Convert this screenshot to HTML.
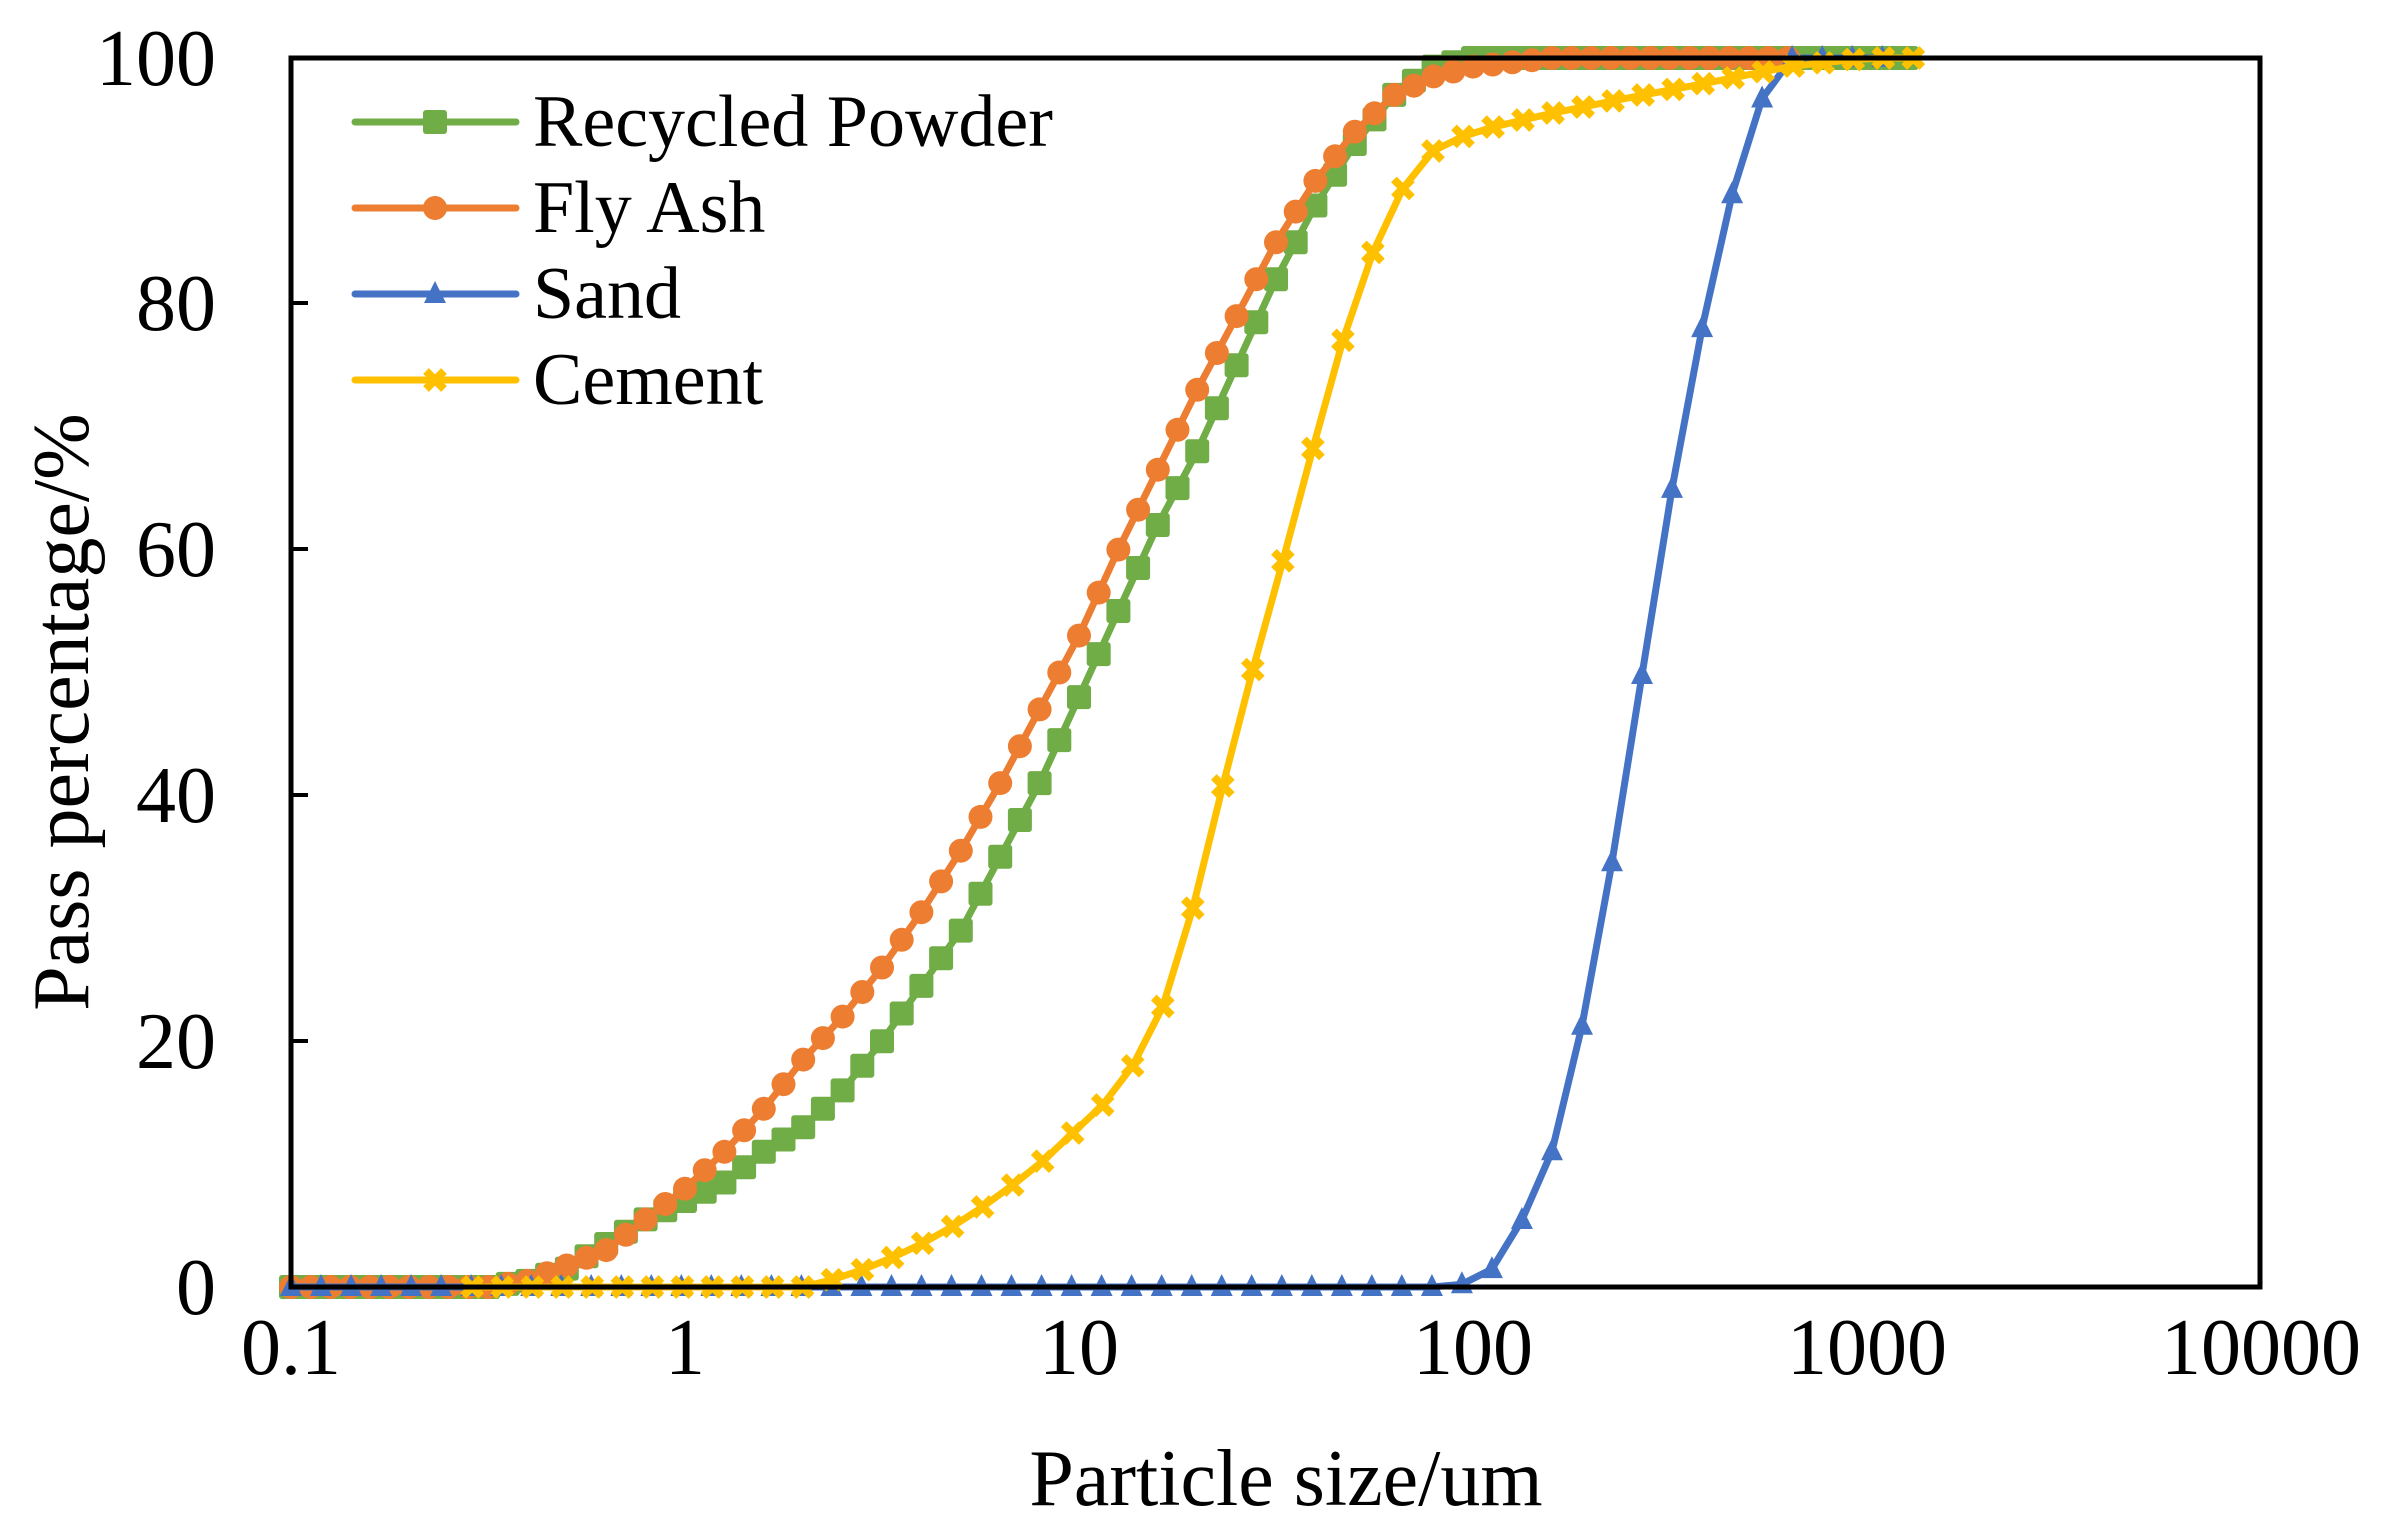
<!DOCTYPE html>
<html><head><meta charset="utf-8"><style>
html,body{margin:0;padding:0;background:#fff;}
svg{display:block;}
text{font-family:"Liberation Serif",serif;fill:#000;}
</style></head><body>
<svg id="s" width="2389" height="1524" viewBox="0 0 2389 1524" xmlns="http://www.w3.org/2000/svg">
<rect width="2389" height="1524" fill="#fff"/>
<g id="series"></g>
<rect x="291" y="58" width="1969" height="1229" fill="none" stroke="#000" stroke-width="5"/>
<g stroke="#000" stroke-width="4">
<line x1="291" y1="303" x2="308" y2="303"/><line x1="291" y1="549" x2="308" y2="549"/>
<line x1="291" y1="795" x2="308" y2="795"/><line x1="291" y1="1041" x2="308" y2="1041"/>
</g>
<g font-size="80" text-anchor="end">
<text x="216" y="85">100</text><text x="216" y="330">80</text><text x="216" y="576">60</text>
<text x="216" y="822">40</text><text x="216" y="1068">20</text><text x="216" y="1314">0</text>
</g>
<g font-size="80" text-anchor="middle">
<text x="291" y="1374">0.1</text><text x="685" y="1374">1</text><text x="1079" y="1374">10</text>
<text x="1473" y="1374">100</text><text x="1867" y="1374">1000</text><text x="2261" y="1374">10000</text>
</g>
<text x="1286" y="1505" font-size="80" text-anchor="middle">Particle size/um</text>
<text transform="translate(88,712) rotate(-90)" font-size="80" text-anchor="middle">Pass percentage/%</text>
<g font-size="74">
<text x="533" y="146">Recycled Powder</text>
<text x="533" y="232">Fly Ash</text>
<text x="533" y="318">Sand</text>
<text x="533" y="404">Cement</text>
</g>
<g id="leg"></g>
</svg>
<script>
const X0=291,DEC=394,Y0=1287,YS=12.29;
const px=l=>X0+(l+1)*DEC, py=v=>Y0-v*YS;
function interp(k,l){if(l<=k[0][0])return k[0][1];for(let i=1;i<k.length;i++){if(l<=k[i][0]){const a=k[i-1],b=k[i];return a[1]+(b[1]-a[1])*(l-a[0])/(b[0]-a[0]);}}return k[k.length-1][1];}
const S=[
{c:"#70AD47",m:"sq",st:0.05,a:-1,b:3.11,k:[[-1,0],[-0.5,0],[-0.4,0.5],[-0.3,1.5],[-0.2,3.5],[-0.1,5.5],[0,7],[0.1,8.5],[0.2,11],[0.3,13],[0.4,16],[0.5,20],[0.6,24.5],[0.7,29],[0.8,35],[0.9,41],[1.0,48],[1.1,55],[1.2,62],[1.3,68],[1.4,75],[1.5,82],[1.6,88],[1.7,93],[1.8,97],[1.9,99.3],[2.0,100],[3.2,100]]},
{c:"#ED7D31",m:"ci",st:0.05,a:-1,b:2.8,k:[[-1,0],[-0.5,0],[-0.4,0.5],[-0.2,3],[0,8],[0.1,11],[0.2,14.5],[0.3,18.5],[0.4,22],[0.5,26],[0.6,30.5],[0.7,35.5],[0.8,41],[0.9,47],[1.0,53],[1.1,60],[1.2,66.5],[1.3,73],[1.4,79],[1.5,85],[1.6,90],[1.7,94],[1.8,97],[1.9,98.5],[2.0,99.3],[2.2,100],[3.2,100]]},
{c:"#4472C4",m:"tr",st:0.0762,a:-1,b:3.11,k:[[-1,0],[1.95,0],[2.0,0.5],[2.05,1.5],[2.1,4],[2.15,7],[2.2,11],[2.25,17],[2.3,25],[2.35,34],[2.4,44],[2.45,54],[2.5,64],[2.55,73],[2.6,81],[2.65,88],[2.7,94],[2.75,98],[2.8,100],[3.2,100]]},
{c:"#FFC000",m:"x",st:0.0762,a:-0.54,b:3.17,k:[[-1,0],[0.3,0],[0.4,0.8],[0.5,2],[0.6,3.5],[0.7,5.3],[0.8,7.5],[0.9,10],[1.0,13],[1.1,16],[1.2,21.5],[1.3,32],[1.4,45.5],[1.5,57],[1.6,69],[1.7,80.5],[1.8,88.5],[1.9,92.5],[2.0,94],[2.2,95.5],[2.4,96.8],[2.6,98],[2.8,99.3],[3.0,100],[3.2,100]]}
];
function mk(m,x,y,c){
 if(m=="sq")return `<rect x="${x-12}" y="${y-12}" width="24" height="24" rx="3" fill="${c}"/>`;
 if(m=="ci")return `<circle cx="${x}" cy="${y}" r="12" fill="${c}"/>`;
 if(m=="tr")return `<polygon points="${x},${y-13} ${x+11},${y+9} ${x-11},${y+9}" fill="${c}"/>`;
 return `<path d="M${x-9} ${y-9}L${x+9} ${y+9}M${x+9} ${y-9}L${x-9} ${y+9}" stroke="${c}" stroke-width="8"/>`;
}
let h="";
for(const s of S){let pts=[],ms="";for(let l=s.a;l<=s.b+1e-9;l+=s.st){const x=px(l),y=py(interp(s.k,l));pts.push(x.toFixed(1)+","+y.toFixed(1));ms+=mk(s.m,x.toFixed(1)*1,y.toFixed(1)*1,s.c);}
 h+=`<polyline points="${pts.join(" ")}" fill="none" stroke="${s.c}" stroke-width="7" stroke-linejoin="round"/>`+ms;}
document.getElementById("series").innerHTML=h;
let g="";const ly=[122,208,294,380];
S.forEach((s,i)=>{g+=`<line x1="355" y1="${ly[i]}" x2="516" y2="${ly[i]}" stroke="${s.c}" stroke-width="7" stroke-linecap="round"/>`+mk(s.m,435,ly[i],s.c);});
document.getElementById("leg").innerHTML=g;
</script>
</body></html>
